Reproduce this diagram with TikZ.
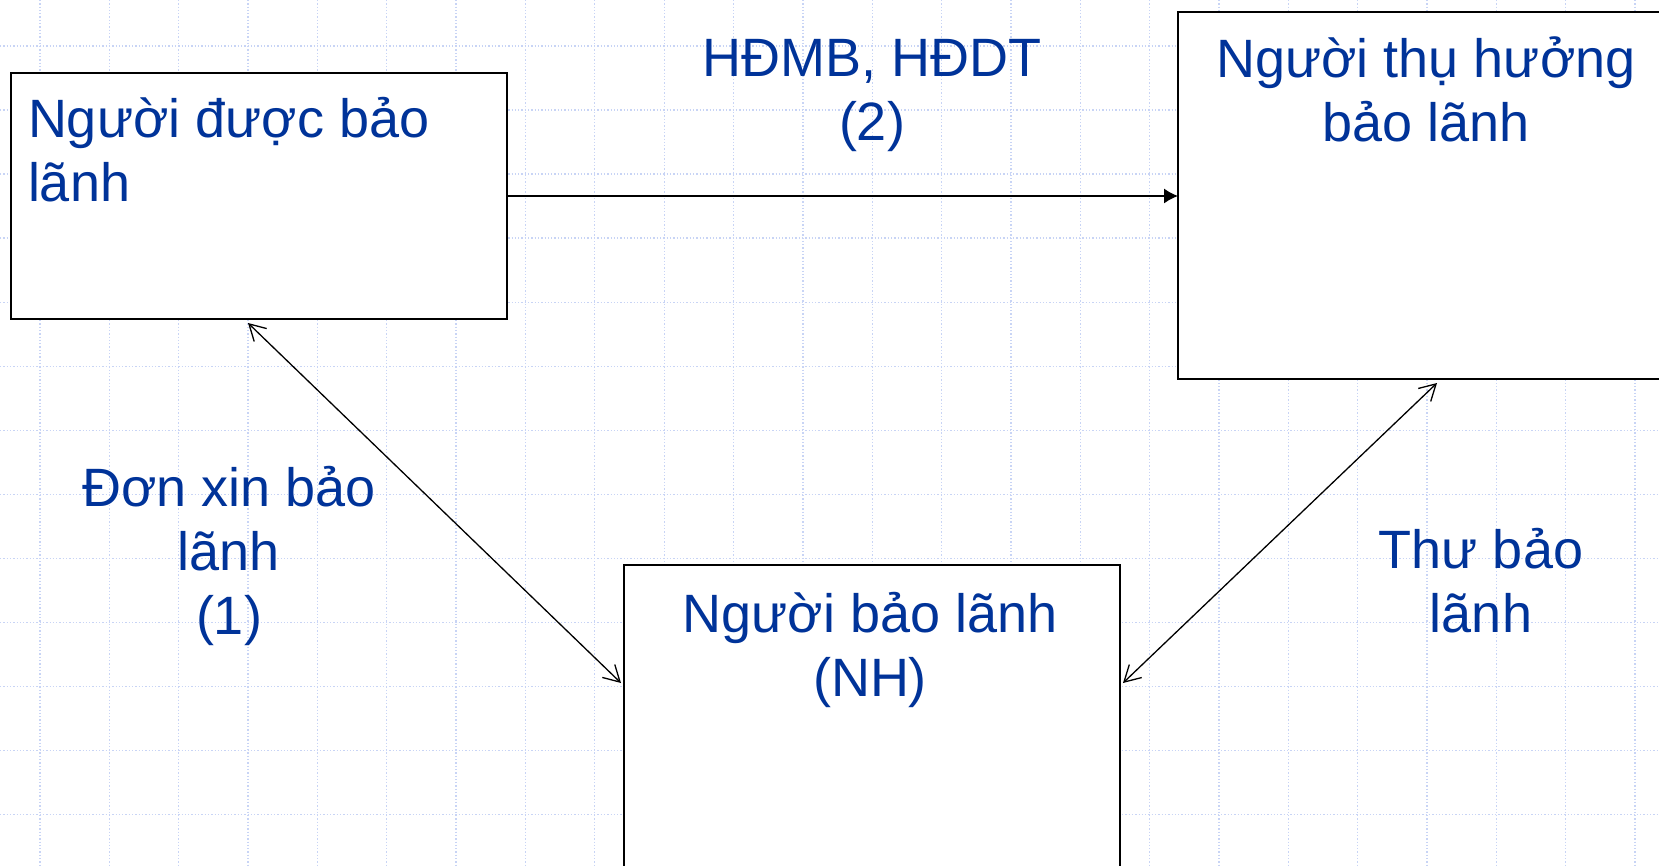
\documentclass[tikz,border=0pt]{standalone}
\usepackage{fontspec}
\setmainfont{Liberation Sans}
\usetikzlibrary{arrows.meta,calc}
\definecolor{txtblue}{RGB}{0,51,153}
\definecolor{gridblue}{RGB}{200,212,245}
\newcommand{\mlines}[2]{\begin{tabular}[t]{@{}#1@{}}#2\end{tabular}}
\begin{document}
\begin{tikzpicture}[x=1pt,y=-1pt,
  box/.style={draw=black, line width=1.5pt, fill=white, inner sep=0pt, outer sep=0pt},
  lbl/.style={text=txtblue, inner sep=0pt, outer sep=0pt, font=\fontsize{54}{64}\selectfont},
  gridline/.style={gridblue, line width=1.3pt, dotted},
  conn/.style={line width=1.3pt},
  dbl/.style={conn, {Straight Barb[length=16pt,width=18pt]}-{Straight Barb[length=16pt,width=18pt]}},
  one/.style={conn, -{Latex[length=14pt,width=15pt]}}
]
\useasboundingbox (0,0) rectangle (1659,866);
\fill[white] (0,0) rectangle (1659,866);
% background grid
\foreach \i in {0,...,23} \draw[gridline] ({40+69.35*\i},0) -- ({40+69.35*\i},866);
\foreach \j in {0,...,12} \draw[gridline] (0,{46+64.05*\j}) -- (1659,{46+64.05*\j});
% boxes
\node[box, minimum width=496pt, minimum height=246pt] (b1) at (259,196) {};
\node[box, minimum width=502pt, minimum height=367pt] (b2) at (1429,195.5) {};
\node[box, minimum width=496pt, minimum height=335pt] (b3) at (872,732.5) {};
% connectors
\draw[one] (b1.east) -- (b1.east -| b2.west);
\draw[dbl] ([shift={(-11,4)}]b1.south) -- ([shift={(-3,-49.5)}]b3.west);
\draw[dbl] ([shift={(3,-49.5)}]b3.east) -- ([shift={(8,4)}]b2.south);
% texts
\node[lbl, anchor=base west] (t1) at (28,138) {\mlines{l}{Người được bảo\\lãnh}};
\node[lbl, anchor=base] (t2) at (872,77) {\mlines{c}{HĐMB, HĐDT\\(2)}};
\node[lbl, anchor=base] (t3) at (1426,78) {\mlines{c}{Người thụ hưởng\\bảo lãnh}};
\node[lbl, anchor=base] (t4) at (870,632) {\mlines{c}{Người bảo lãnh\\(NH)}};
\node[lbl, anchor=base] (t5) at (229,506) {\mlines{c}{Đơn xin bảo\\lãnh\\(1)}};
\node[lbl, anchor=base] (t6) at (1481,568) {\mlines{c}{Thư bảo\\lãnh}};
\end{tikzpicture}
\end{document}
